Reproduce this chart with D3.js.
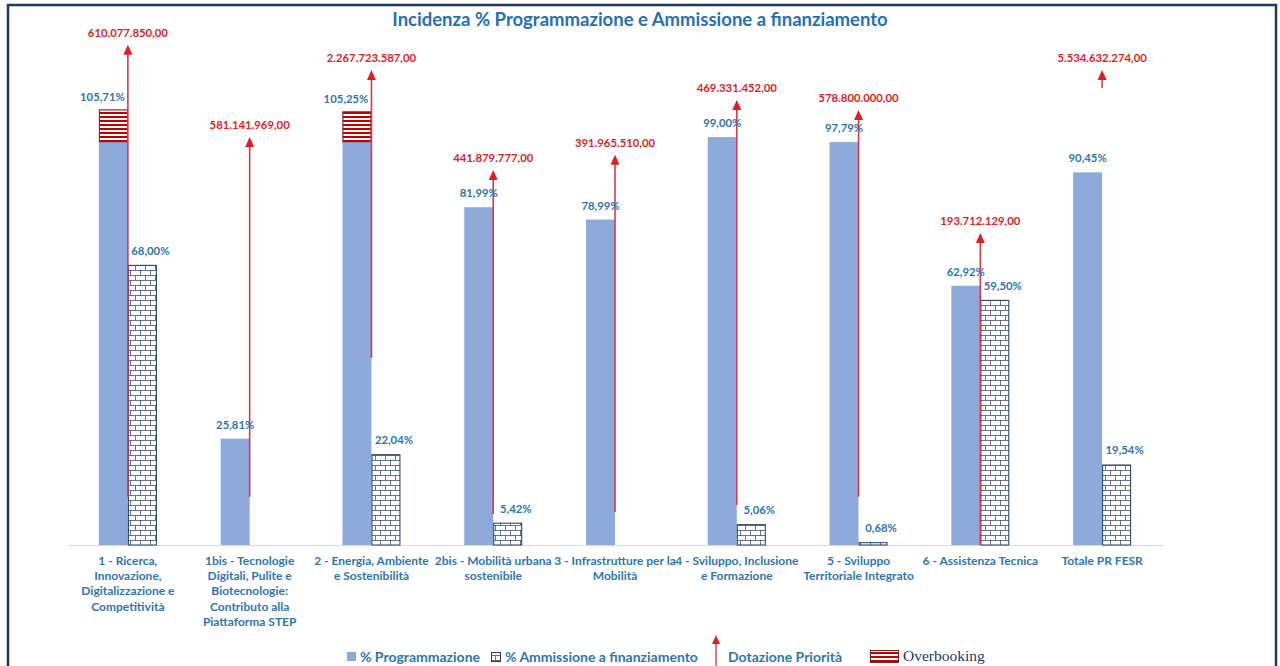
<!DOCTYPE html>
<html>
<head>
<meta charset="utf-8">
<script src="https://cdn.jsdelivr.net/npm/d3@7/dist/d3.min.js"></script>
<style>
  body { margin: 0; background: #fff; }
  svg text { font-family: Lato, "Open Sans", sans-serif; font-weight: 700; }
</style>
</head>
<body>
<div id="chart"></div>
<script>
// dati
const categories = ["1", "1bis", "2", "2bis", "3", "4", "5", "6", "Totale"];
const categoryLabels = [
  ["1 - Ricerca,", "Innovazione,", "Digitalizzazione e", "Competitività"],
  ["1bis - Tecnologie", "Digitali, Pulite e", "Biotecnologie:", "Contributo alla", "Piattaforma STEP"],
  ["2 - Energia, Ambiente", "e Sostenibilità"],
  ["2bis - Mobilità urbana", "sostenibile"],
  ["3 - Infrastrutture per la", "Mobilità"],
  ["4 - Sviluppo, Inclusione", "e Formazione"],
  ["5 - Sviluppo", "Territoriale Integrato"],
  ["6 - Assistenza Tecnica"],
  ["Totale PR FESR"]
];
const programmazione = [105.71, 25.81, 105.25, 81.99, 78.99, 99.00, 97.79, 62.92, 90.45];
const ammissione = [68.00, null, 22.04, 5.42, null, 5.06, 0.68, 59.50, 19.54];
const dotazione = ["610.077.850,00", "581.141.969,00", "2.267.723.587,00", "441.879.777,00",
  "391.965.510,00", "469.331.452,00", "578.800.000,00", "193.712.129,00", "5.534.632.274,00"];
// frecce "Dotazione Priorità": inizio e punta, in unità dell'asse %
const dotazioneTop = [121.4, 99.0, 115.3, 91.0, 94.7, 108.0, 105.6, 75.7, 115.3];
const dotazioneBase = [11.7, 11.7, 45.4, 7.5, 8.0, 9.7, 11.7, 0, 110.9];
const overbookingFrom = 98;

const W = 1280, H = 666;
const blue = "#8eaadb", navy = "#1f3864", labelBlue = "#2e74b5", red = "#e31b23";

const it = d3.formatLocale({decimal: ",", thousands: ".", grouping: [3], currency: ["", "€"]});
const pct = v => it.format(".2f")(v) + "%";

const svg = d3.select("#chart").append("svg").attr("width", W).attr("height", H);
const defs = svg.append("defs");

// mattoni (Ammissione)
const brick = defs.append("pattern").attr("id", "brick").attr("patternUnits", "userSpaceOnUse")
  .attr("width", 10).attr("height", 10);
brick.append("rect").attr("width", 10).attr("height", 10).attr("fill", "#fff");
brick.append("path").attr("d", "M0,0.5H10M0,5.5H10M0.5,0V5.5M5.5,5.5V10")
  .attr("stroke", "#34466e").attr("stroke-width", 0.75).attr("fill", "none");

// righe rosse (Overbooking)
const stripes = defs.append("pattern").attr("id", "stripes").attr("patternUnits", "userSpaceOnUse")
  .attr("width", 8).attr("height", 4);
stripes.append("rect").attr("width", 8).attr("height", 4).attr("fill", "#fff");
stripes.append("rect").attr("width", 8).attr("height", 2).attr("fill", "#c00000");

// cornice
svg.append("rect").attr("x", 8).attr("y", 5).attr("width", 1268).attr("height", 720)
  .attr("fill", "none").attr("stroke", navy).attr("stroke-width", 2.5);

svg.append("text").attr("x", 640).attr("y", 26).attr("text-anchor", "middle")
  .attr("font-size", 18.5).attr("fill", "#2370b8")
  .text("Incidenza % Programmazione e Ammissione a finanziamento");

const x = d3.scaleBand().domain(categories).range([67, 1163]);
const x1 = d3.scaleBand().domain(["prog", "amm"]).range([0, x.bandwidth()]).paddingOuter(1.1);
const y = d3.scaleLinear().domain([0, 100]).range([545, 133]);

const data = categories.map((c, i) => ({
  c, prog: programmazione[i], amm: ammissione[i], dot: dotazione[i],
  top: dotazioneTop[i], base: dotazioneBase[i], lines: categoryLabels[i]
}));

// asse x
const xAxis = svg.append("g").attr("transform", `translate(0,${y(0)})`)
  .call(d3.axisBottom(x).tickSize(0).tickFormat(""));
xAxis.select(".domain").attr("stroke", "#d9d9d9").attr("stroke-width", 1.2);
xAxis.selectAll(".tick text").remove();
xAxis.selectAll(".tick").append("text")
  .attr("fill", "#2f75b5").attr("font-size", 12).attr("text-anchor", "middle")
  .each(function(d) {
    const lines = categoryLabels[categories.indexOf(d)];
    d3.select(this).selectAll("tspan").data(lines).join("tspan")
      .attr("x", 0).attr("y", (l, j) => 20 + j * 15.2).text(l => l);
  });

// barre Programmazione
svg.append("g").selectAll("rect").data(data).join("rect")
  .attr("x", d => x(d.c) + x1("prog")).attr("width", x1.bandwidth())
  .attr("y", d => y(d.prog)).attr("height", d => y(0) - y(d.prog))
  .attr("fill", blue);

// overbooking
svg.append("g").selectAll("rect").data(data.filter(d => d.prog > 100)).join("rect")
  .attr("x", d => x(d.c) + x1("prog") + 0.5).attr("width", x1.bandwidth() - 1)
  .attr("y", d => y(d.prog) + 0.5).attr("height", d => y(overbookingFrom) - y(d.prog))
  .attr("fill", "url(#stripes)").attr("stroke", "#7f1d1d").attr("stroke-width", 1);

// barre Ammissione
svg.append("g").selectAll("rect").data(data.filter(d => d.amm != null)).join("rect")
  .attr("x", d => x(d.c) + x1("amm") + 0.5).attr("width", x1.bandwidth() - 1)
  .attr("y", d => y(d.amm) + 0.5).attr("height", d => Math.max(0, y(0) - y(d.amm) - 0.5))
  .attr("fill", "url(#brick)").attr("stroke", navy).attr("stroke-width", 1);

// frecce Dotazione Priorità
const arrows = svg.append("g");
arrows.selectAll("line").data(data).join("line")
  .attr("x1", d => x(d.c) + x.bandwidth() / 2).attr("x2", d => x(d.c) + x.bandwidth() / 2)
  .attr("y1", d => y(d.base)).attr("y2", d => y(d.top) + 8)
  .attr("stroke", "#d63a4a").attr("stroke-width", 1.6);
arrows.selectAll("path").data(data).join("path")
  .attr("d", d => {
    const cx = x(d.c) + x.bandwidth() / 2, ty = y(d.top);
    return `M${cx},${ty}L${cx - 4.5},${ty + 10}L${cx + 4.5},${ty + 10}Z`;
  })
  .attr("fill", red);
arrows.selectAll("text").data(data).join("text")
  .attr("x", d => x(d.c) + x.bandwidth() / 2).attr("y", d => y(d.top) - 8)
  .attr("text-anchor", "middle").attr("font-size", 11.3).attr("fill", red)
  .text(d => d.dot);

// etichette %
svg.append("g").selectAll("text").data(data).join("text")
  .attr("x", d => x(d.c) + x1("prog") + x1.bandwidth() / 2 + (d.prog > 100 ? -11 : 0))
  .attr("y", d => (d.prog > 100 ? y(d.prog) - 8 : y(d.prog) - 10))
  .attr("text-anchor", "middle").attr("font-size", 11.3).attr("fill", labelBlue)
  .text(d => pct(d.prog));
svg.append("g").selectAll("text").data(data.filter(d => d.amm != null)).join("text")
  .attr("x", d => x(d.c) + x1("amm") + x1.bandwidth() / 2 + 8)
  .attr("y", d => y(d.amm) - 10)
  .attr("text-anchor", "middle").attr("font-size", 11.3).attr("fill", labelBlue)
  .text(d => pct(d.amm));

// legenda
const lg = svg.append("g").attr("font-size", 14).attr("fill", labelBlue);
lg.append("rect").attr("x", 347).attr("y", 652).attr("width", 9).attr("height", 9).attr("fill", blue);
lg.append("text").attr("x", 360).attr("y", 662).text("% Programmazione");
lg.append("rect").attr("x", 491.5).attr("y", 652.5).attr("width", 9).attr("height", 9)
  .attr("fill", "url(#brick)").attr("stroke", navy).attr("stroke-width", 1);
lg.append("text").attr("x", 505).attr("y", 662).text("% Ammissione a finanziamento");
lg.append("line").attr("x1", 716).attr("x2", 716).attr("y1", 670).attr("y2", 643)
  .attr("stroke", "#d63a4a").attr("stroke-width", 1.4);
lg.append("path").attr("d", "M716,635L712,644L720,644Z").attr("fill", red);
lg.append("text").attr("x", 728).attr("y", 662).text("Dotazione Priorità");
lg.append("rect").attr("x", 870.5).attr("y", 650.5).attr("width", 28).attr("height", 12)
  .attr("fill", "url(#stripes)").attr("stroke", "#7f1d1d").attr("stroke-width", 1);
lg.append("text").attr("x", 903).attr("y", 661).attr("fill", navy)
  .style("font-family", "'Liberation Serif', 'Times New Roman', serif").style("font-weight", 400)
  .attr("font-size", 15.5).text("Overbooking");
</script>
</body>
</html>
